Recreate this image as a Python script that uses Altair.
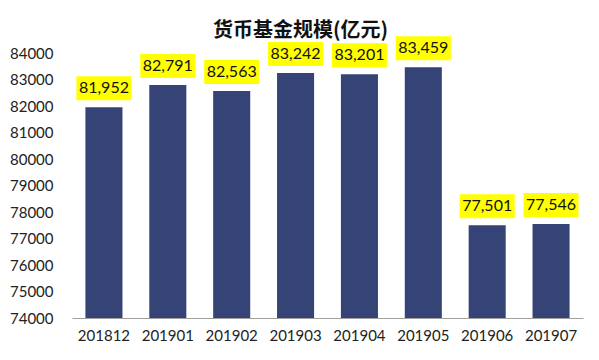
import altair as alt
import pandas as pd

months = ["201812", "201901", "201902", "201903", "201904", "201905", "201906", "201907"]
values = [81952, 82791, 82563, 83242, 83201, 83459, 77501, 77546]
y_ticks = [74000, 75000, 76000, 77000, 78000, 79000, 80000, 81000, 82000, 83000, 84000]

df = pd.DataFrame({"month": months, "value": values})
df["label"] = df["value"].map(lambda v: f"{v:,}")

FONT = "Lato"

x = alt.X("month:N", sort=months, title=None,
          scale=alt.Scale(paddingInner=0.42, paddingOuter=0.21),
          axis=alt.Axis(labelAngle=0, labelFont=FONT, labelFontSize=15, labelColor="#222222",
                        domainColor="#a0a0a0", domainWidth=1, ticks=False, labelPadding=10))
y = alt.Y("value:Q", title=None,
          scale=alt.Scale(domain=[74000, 84000], nice=False, zero=False),
          axis=alt.Axis(values=y_ticks, grid=False, domain=False, ticks=False, labelFont=FONT,
                        labelFontSize=15, labelColor="#222222", labelPadding=19, format="d"))

bars = alt.Chart(df).mark_bar(color="#364377", clip=True).encode(x=x, y=y)
boxes = alt.Chart(df).mark_tick(color="#ffff00", size=55, thickness=24, yOffset=-19, opacity=1).encode(x=x, y=y)
texts = alt.Chart(df).mark_text(font=FONT, fontSize=16, color="#111111", yOffset=-19,
                                baseline="middle").encode(x=x, y=y, text="label:N")

chart = (bars + boxes + texts).properties(
    width=511, height=265,
    title=alt.TitleParams("货币基金规模(亿元)", font="Noto Sans CJK SC", fontSize=20, fontWeight="bold",
                          color="#111111", anchor="middle", frame="group", offset=0, dx=-27, dy=5),
    autosize=alt.AutoSizeParams(type="none"),
    padding={"left": 64, "top": 45, "right": 5, "bottom": 40},
).configure_view(stroke=None)

chart.save("out.html", embed_options={"renderer": "svg", "actions": False})
